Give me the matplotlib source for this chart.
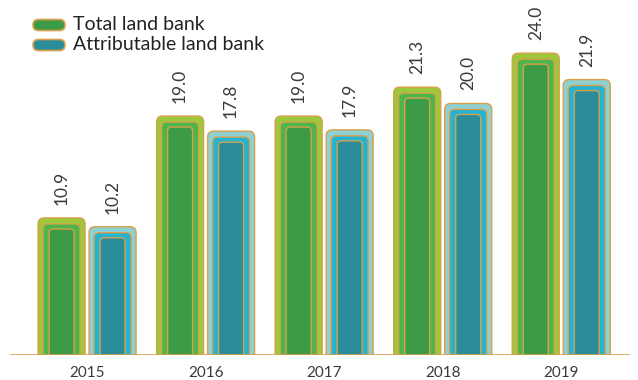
import matplotlib
matplotlib.use("Agg")
import matplotlib.pyplot as plt
from matplotlib.patches import FancyBboxPatch

years = ["2015", "2016", "2017", "2018", "2019"]
total = [10.9, 19.0, 19.0, 21.3, 24.0]
attributable = [10.2, 17.8, 17.9, 20.0, 21.9]
series_names = ["Total land bank", "Attributable land bank"]

W, H = 638, 380
fig = plt.figure(figsize=(W / 100, H / 100), dpi=100)
plt.rcParams['font.family'] = ['Lato', 'DejaVu Sans']

ax_l, ax_r, ax_b, ax_t = 10, 630, 25, 352  # pixels from left / from bottom
ax = fig.add_axes([ax_l / W, ax_b / H, (ax_r - ax_l) / W, (ax_t - ax_b) / H])
ymax = 26.0
xlo, xhi = -0.65, 4.58
ax.set_xlim(xlo, xhi)
ax.set_ylim(0, ymax)

px_x = (ax_r - ax_l) / (xhi - xlo)   # px per x unit
px_y = (ax_t - ax_b) / ymax          # px per y unit
aspect = px_x / px_y

edge = "#d9a04b"
colors = {
    0: ["#9cc93b", "#4db549", "#3d9b47"],
    1: ["#8fd1d3", "#22b4d2", "#2b8c9a"],
}
width_px = 47
offset_px = 25.5
layers = [(0, 0, 6), (5, 6, 5), (11, 11, 4)]  # (side inset px, top inset px, radius px)

for s, vals in enumerate([total, attributable]):
    sign = -1 if s == 0 else 1
    for i, v in enumerate(vals):
        cx = i + sign * offset_px / px_x
        for k, (ins, tins, rad) in enumerate(layers):
            w = (width_px - 2 * ins) / px_x
            top = v - tins / px_y
            bottom = -2
            p = FancyBboxPatch((cx - w / 2, bottom), w, top - bottom,
                               boxstyle=f"round,pad=0,rounding_size={rad / px_x}",
                               mutation_aspect=aspect,
                               facecolor=colors[s][k], edgecolor=edge, linewidth=1.0)
            ax.add_patch(p)
        ax.text(cx, v + 13 / px_y, f"{v:.1f}", rotation=90, ha="center", va="bottom",
                fontsize=12.5, color="#3a3a3a")

ax.axhline(0, color=edge, linewidth=1.2, zorder=5)
for sp in ax.spines.values():
    sp.set_visible(False)
ax.set_yticks([])
ax.set_xticks(range(len(years)))
ax.set_xticklabels(years, fontsize=11, color="#3a3a3a")
ax.tick_params(axis="x", length=0, pad=8)

# legend
tr = fig.dpi_scale_trans
for j, name in enumerate(series_names):
    yc = 25 + 20 * j
    lx, lw, lh = 33, 32, 11
    p = FancyBboxPatch((lx / 100, (H - yc - lh / 2) / 100), lw / 100, lh / 100,
                       boxstyle=f"round,pad=0,rounding_size={5.5 / 100}",
                       facecolor=colors[j][2], edgecolor=edge, linewidth=1.2,
                       transform=tr)
    fig.add_artist(p)
    fig.text(73 / W, (H - yc) / H, name, ha="left", va="center", fontsize=14,
             color="#222222")

fig.savefig("out.png", dpi=100)
